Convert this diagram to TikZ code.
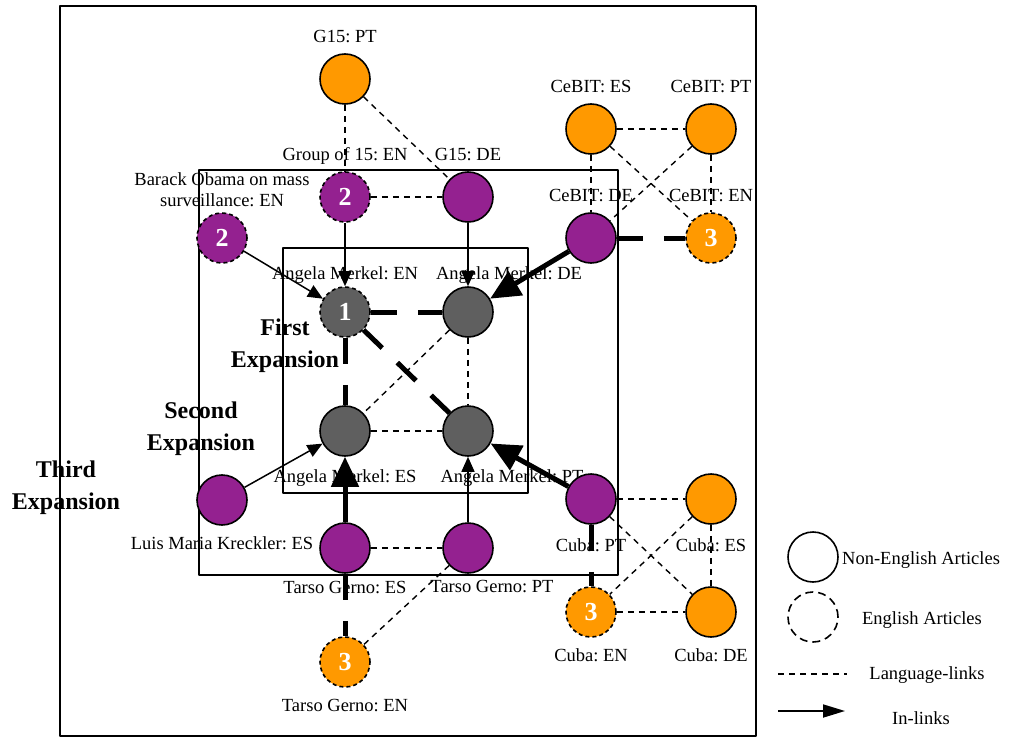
\documentclass[tikz,border=0pt]{standalone}
\usepackage{fontspec}
\setmainfont{Liberation Serif}
\usetikzlibrary{arrows.meta,positioning}
\definecolor{Amber}{HTML}{FF9900}
\definecolor{Plum}{HTML}{942190}
\definecolor{Slate}{HTML}{5F5F5F}

\begin{document}
\frenchspacing
\begin{tikzpicture}[x=1pt,y=-1pt,line join=round,
art/.style={circle,draw,line width=1.6pt,minimum size=50pt,inner sep=0pt,text=white,font=\fontsize{26}{26}\selectfont\bfseries},
en/.style={art,dash pattern=on 4pt off 3pt},
tag/.style={text=black,font=\fontsize{18.5}{21}\selectfont,inner sep=0pt,text height=12.5pt,text depth=0pt},
lang/.style={dash pattern=on 6pt off 5pt,line width=1.4pt},
heavy/.style={line width=5pt,dash pattern=on 26pt off 21pt},
inlink/.style={-{Triangle[length=15pt,width=13pt]},line width=1.5pt},
bigin/.style={-{Triangle[length=30pt,width=27pt]},line width=5pt},
phase/.style={font=\fontsize{24}{32}\selectfont\bfseries,align=center,inner sep=0pt},
label distance=10.5pt,every label/.style={tag}]
\useasboundingbox (0,0) rectangle (1009,738);
% expansion frames
\draw[line width=1.5pt] (60,6) rectangle (756,736);
\draw[line width=1.5pt] (199,170) rectangle (618,575);
\draw[line width=1.5pt] (283,248) rectangle (528,493);
\node[phase] (first) at (285,346) {First\\Expansion};
\node[phase] (second) at (201,429) {Second\\Expansion};
\node[phase] (third) at (66,488) {Third\\Expansion};

% Angela Merkel
\node[en,fill=Slate,label={[yshift=-4pt]above:{Angela Merkel: EN}}] (amen) at (345,312) {1};
\node[art,fill=Slate,label={[xshift=41pt,yshift=-4pt]above:{Angela Merkel: DE}}] (amde) at (468,312) {};
\node[art,fill=Slate,label={[yshift=-2pt]below:{Angela Merkel: ES}}] (ames) at (345,431) {};
\node[art,fill=Slate,label={[xshift=44pt,yshift=-2pt]below:{Angela Merkel: PT}}] (ampt) at (468,431) {};

% G15 and Obama
\node[art,fill=Amber,label=above:{G15: PT}] (g15pt) at (345,79) {};
\node[en,fill=Plum,label=above:{Group of 15: EN}] (g15en) at (345,197) {2};
\node[art,fill=Plum,label=above:{G15: DE}] (g15de) at (468,197) {};
\node[en,fill=Plum] (obama) at (222,238) {2};
\node[font=\fontsize{18.5}{21}\selectfont,align=center,inner sep=0pt] (obamal) at (222,190) {Barack Obama on mass\\surveillance: EN};

% CeBIT
\node[art,fill=Amber,label=above:{CeBIT: ES}] (cbes) at (591,129) {};
\node[art,fill=Amber,label=above:{CeBIT: PT}] (cbpt) at (711,129) {};
\node[art,fill=Plum,label=above:{CeBIT: DE}] (cbde) at (591,238) {};
\node[en,fill=Amber,label=above:{CeBIT: EN}] (cben) at (711,238) {3};

% Luis Maria Kreckler, Tarso Gerno
\node[art,fill=Plum,label=below:{Luis Maria Kreckler: ES}] (lmk) at (222,500) {};
\node[art,fill=Plum,label={[yshift=4pt]below:{Tarso Gerno: ES}}] (tges) at (345,548) {};
\node[art,fill=Plum,label={[xshift=24pt,yshift=5pt]below:{Tarso Gerno: PT}}] (tgpt) at (468,548) {};
\node[en,fill=Amber,label=below:{Tarso Gerno: EN}] (tgen) at (345,662) {3};

% Cuba
\node[art,fill=Plum,label={[yshift=-3pt]below:{Cuba: PT}}] (cupt) at (591,499) {};
\node[art,fill=Amber,label={[yshift=-3pt]below:{Cuba: ES}}] (cues) at (711,499) {};
\node[en,fill=Amber,label=below:{Cuba: EN}] (cuen) at (591,612) {3};
\node[art,fill=Amber,label=below:{Cuba: DE}] (cude) at (711,612) {};

% language links
\draw[lang] (g15pt) -- (g15en);
\draw[lang] (g15pt) -- (g15de);
\draw[lang] (g15en) -- (g15de);
\draw[lang] (cbes) -- (cbpt);
\draw[lang] (cbes) -- (cbde);
\draw[lang] (cbes) -- (cben);
\draw[lang] (cbpt) -- (cbde);
\draw[lang] (cbpt) -- (cben);
\draw[lang] (amde) -- (ampt);
\draw[lang] (amde) -- (ames);
\draw[lang] (ames) -- (ampt);
\draw[lang] (tges) -- (tgpt);
\draw[lang] (tgpt) -- (tgen);
\draw[lang] (cupt) -- (cues);
\draw[lang] (cupt) -- (cude);
\draw[lang] (cues) -- (cuen);
\draw[lang] (cues) -- (cude);
\draw[lang] (cuen) -- (cude);
\draw[heavy] (amen) -- (amde);
\draw[heavy] (amen) -- (ames);
\draw[heavy] (amen) -- (ampt);
\draw[heavy] (cbde) -- (cben);
\draw[heavy] (tges) -- (tgen);
\draw[heavy] (cupt) -- (cuen);

% in-links
\draw[inlink] (g15en) -- (amen);
\draw[inlink] (g15de) -- (amde);
\draw[inlink] (obama) -- (amen);
\draw[inlink] (lmk) -- (ames);
\draw[inlink] (tgpt) -- (ampt);
\draw[bigin] (cbde) -- (amde);
\draw[bigin] (tges) -- (ames);
\draw[bigin] (cupt) -- (ampt);

% legend
\node[art] (legne) at (813,557) {};
\node[tag,anchor=west] (legnet) at (842,558) {Non-English Articles};
\node[art,dash pattern=on 8pt off 5pt] (legen) at (813,617) {};
\node[tag] (legent) at (922,618) {English Articles};
\coordinate (lla) at (778,674);
\coordinate (llb) at (847,674);
\draw[lang] (lla) -- (llb);
\node[tag] (llt) at (927,673) {Language-links};
\coordinate (ila) at (778,711);
\coordinate (ilb) at (845,711);
\draw[-{Triangle[length=22pt,width=13pt]},line width=1.8pt] (ila) -- (ilb);
\node[tag] (ilt) at (921,718) {In-links};
\end{tikzpicture}
\end{document}
